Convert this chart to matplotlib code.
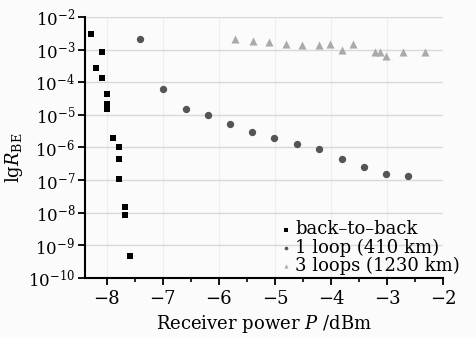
import matplotlib
matplotlib.use("Agg")
import matplotlib.pyplot as plt
from matplotlib.ticker import MultipleLocator, LogLocator, NullLocator

plt.rcParams['font.family'] = ['DejaVu Serif']
plt.rcParams['mathtext.fontset'] = 'dejavuserif'

# back-to-back
b2b_x = [-8.29, -8.09, -8.19, -8.09, -7.99, -7.99, -7.99, -7.89, -7.79, -7.79, -7.79, -7.68, -7.68, -7.59]
b2b_y = [2.9e-3, 8.3e-4, 2.7e-4, 1.3e-4, 4.4e-5, 2.1e-5, 1.5e-5, 2.0e-6, 1.05e-6, 4.4e-7, 1.05e-7, 1.45e-8, 8.5e-9, 4.7e-10]
# 1 loop (410 km)
l1_x = [-7.40, -6.99, -6.59, -6.20, -5.80, -5.41, -5.01, -4.61, -4.21, -3.81, -3.41, -3.02, -2.62]
l1_y = [2.1e-3, 6.3e-5, 1.55e-5, 9.6e-6, 5.2e-6, 2.9e-6, 2.0e-6, 1.26e-6, 8.7e-7, 4.3e-7, 2.5e-7, 1.55e-7, 1.35e-7]
# 3 loops (1230 km)
l3_x = [-5.71, -5.40, -5.11, -4.80, -4.51, -4.21, -4.01, -3.81, -3.61, -3.21, -3.12, -3.02, -2.72, -2.32]
l3_y = [2.1e-3, 1.8e-3, 1.7e-3, 1.46e-3, 1.4e-3, 1.42e-3, 1.5e-3, 9.5e-4, 1.5e-3, 8.7e-4, 8.3e-4, 6.5e-4, 8.7e-4, 8.3e-4]

labels = ['back\u2013to\u2013back', '1 loop (410 km)', '3 loops (1230 km)']

fig = plt.figure(figsize=(4.77, 3.38), dpi=100, facecolor='#fbfbfb')
ax = fig.add_axes([0.178, 0.1775, 0.751, 0.7725])
ax.set_facecolor('#fbfbfb')

ax.scatter(b2b_x, b2b_y, marker='s', s=24, color='black', label=labels[0], zorder=3, linewidths=0)
ax.scatter(l1_x, l1_y, marker='o', s=28, color='#555555', label=labels[1], zorder=3, linewidths=0)
ax.scatter(l3_x, l3_y, marker='^', s=34, color='#aaaaaa', label=labels[2], zorder=3, linewidths=0)

ax.set_yscale('log')
ax.set_xlim(-8.39, -2)
ax.set_ylim(1e-10, 1e-2)
ax.yaxis.set_major_locator(LogLocator(base=10, numticks=20))
ax.yaxis.set_minor_locator(NullLocator())
ax.xaxis.set_major_locator(MultipleLocator(1))
ax.xaxis.set_minor_locator(MultipleLocator(0.5))

ax.grid(True, axis='y', color='#d8d8d8', linewidth=1.0, zorder=0)
ax.grid(True, axis='x', color='#eeeeee', linewidth=0.8, zorder=0)
for s in ['top', 'right']:
    ax.spines[s].set_visible(False)
for s in ['left', 'bottom']:
    ax.spines[s].set_linewidth(1.5)
ax.tick_params(axis='both', which='major', width=1.3, length=5, direction='out')
ax.tick_params(axis='x', which='major', labelsize=13)
ax.tick_params(axis='y', which='major', labelsize=12, pad=2)
ax.tick_params(axis='x', which='minor', width=1.2, length=3)

ax.set_xlabel('Receiver power $\\it{P}$ /dBm', fontsize=13, labelpad=4)
ax.set_ylabel('lg$\\it{R}_{\\rm BE}$', fontsize=13)
ax.yaxis.set_label_coords(-0.168, 0.46)

ax.legend(loc='lower right', bbox_to_anchor=(1.072, -0.023), frameon=False, fontsize=13,
          markerscale=0.5, handletextpad=0.0, labelspacing=0.0, borderaxespad=0.1,
          handlelength=1.0)

fig.savefig('out.png', dpi=100, facecolor=fig.get_facecolor())
